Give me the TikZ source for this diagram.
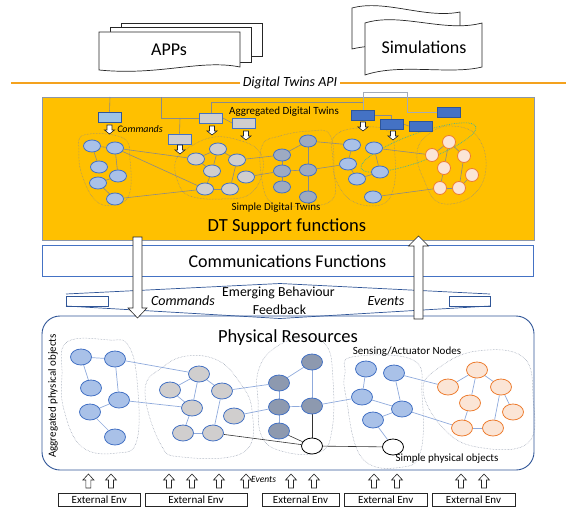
\documentclass[tikz,border=0pt]{standalone}
\usepackage{fontspec}
\setmainfont{Carlito}
\usetikzlibrary{shapes.geometric}
\pgfdeclarelayer{back}
\pgfdeclarelayer{edges}
\pgfsetlayers{back,edges,main}
\definecolor{gold}{HTML}{FFC000}
\definecolor{apiorange}{HTML}{F4A21E}
\definecolor{dkblue}{HTML}{2F5597}
\definecolor{mdblue}{HTML}{4472C4}
\definecolor{ltblue}{HTML}{A9C1E8}
\definecolor{boxblue}{HTML}{9DC3E6}
\definecolor{gryfill}{HTML}{D0CECE}
\definecolor{slate}{HTML}{9DAAC2}
\definecolor{peach}{HTML}{FBE5D6}
\definecolor{orng}{HTML}{ED7D31}
\definecolor{lnblue}{HTML}{8FAADC}
\definecolor{lngray}{HTML}{8A8A8A}
\definecolor{tealdot}{HTML}{3CB4A0}
\definecolor{blobgray}{HTML}{8C96A8}
\newcommand\blkdown[6]{\draw[blockarr] (#1-#6,#2) -- (#1+#6,#2) -- (#1+#6,#3-#4) -- (#1+#5,#3-#4) -- (#1,#3) -- (#1-#5,#3-#4) -- (#1-#6,#3-#4) -- cycle;}
\newcommand\blkup[6]{\draw[blockarr] (#1-#6,#2) -- (#1+#6,#2) -- (#1+#6,#3+#4) -- (#1+#5,#3+#4) -- (#1,#3) -- (#1-#5,#3+#4) -- (#1-#6,#3+#4) -- cycle;}
\begin{document}
\begin{tikzpicture}[x=1pt,y=-1pt,
  docline/.style={draw=black!85, line width=0.7pt, fill=white},
  blockarr/.style={draw=black!85, line width=0.6pt, fill=white, line join=miter},
  dn/.style={ellipse, draw=mdblue, line width=0.8pt, inner sep=0, minimum width=17, minimum height=12},
  dc/.style={circle, draw=orng, line width=0.8pt, fill=peach, inner sep=0, minimum size=13},
  pn/.style={ellipse, draw=mdblue, line width=0.8pt, inner sep=0, minimum width=21, minimum height=16},
  pc/.style={ellipse, draw=orng, line width=0.8pt, fill=peach, inner sep=0, minimum width=21, minimum height=16},
  wn/.style={ellipse, draw=black, line width=0.8pt, fill=white, inner sep=0, minimum width=21, minimum height=16},
  dbox/.style={rectangle, draw=dkblue, line width=0.7pt, inner sep=0, minimum width=23, minimum height=10},
  tree/.style={draw=lngray, line width=0.6pt},
  dedge/.style={draw=lngray, line width=0.6pt},
  pedge/.style={draw=lnblue, line width=0.7pt},
  kedge/.style={draw=black!80, line width=0.6pt},
  blob/.style={draw=lngray, line width=0.5pt, densely dotted},
  pblob/.style={draw=blobgray, line width=0.5pt, densely dotted},
  lbl/.style={inner sep=0, font=\fontsize{11}{13}\selectfont},
  big/.style={inner sep=0, font=\fontsize{18.5}{22}\selectfont},
  band/.style={inner sep=0, font=\fontsize{13.8}{16}\selectfont},
  env/.style={rectangle, draw=black!85, line width=0.6pt, fill=white, inner sep=0, minimum height=13, font=\fontsize{11}{13}\selectfont}
]
\useasboundingbox (0,0) rectangle (575,508);

% ---------- APPs (multi-document) ----------
\draw[docline] (121,23) -- (262,23) -- (262,56) -- (121,56) -- cycle;
\draw[docline] (110,27) -- (251,27) -- (251,62) -- (110,62) -- cycle;
\draw[docline] (99,32) -- (240,32) -- (240,67) .. controls (200,59) and (160,76) .. (99,70) -- cycle;
\node[big, font=\fontsize{18}{22}\selectfont] (apps) at (169,50) {APPs};

% ---------- Simulations (punched tape) ----------
\draw[docline] (352,8) .. controls (385,-1) and (425,19) .. (460,12) -- (460,46) .. controls (430,53) and (390,40) .. (352,49) -- cycle;
\draw[docline] (365,23) .. controls (400,12) and (445,33) .. (482,23) -- (482,67) .. controls (450,75) and (400,63) .. (365,75) -- cycle;
\node[big, font=\fontsize{18}{22}\selectfont] (sims) at (424,47) {Simulations};

% ---------- API line ----------
\node[inner sep=3, font=\fontsize{14}{16}\itshape\selectfont] (api) at (290,83) {Digital Twins API};
\coordinate (apiL) at (11,83);
\coordinate (apiR) at (566,83);
\draw[apiorange, line width=1.8pt] (apiL) -- (api.west);
\draw[apiorange, line width=1.8pt] (api.east) -- (apiR);

% ---------- DT support area ----------
\begin{pgfonlayer}{back}
\draw[fill=gold, draw=blobgray, line width=0.8pt] (42,97) rectangle (534,240);
\end{pgfonlayer}

% boxes
\node[dbox, fill=boxblue] (boxA) at (109.5,117) {};
\node[dbox, fill=gryfill, draw=mdblue] (boxB) at (179.5,139) {};
\node[dbox, fill=gryfill, draw=mdblue] (boxC) at (211,118) {};
\node[dbox, fill=gryfill, draw=mdblue] (boxD) at (244,123) {};
\node[dbox, fill=mdblue] (boxE) at (363,115) {};
\node[dbox, fill=mdblue] (boxF) at (391.5,124) {};
\node[dbox, fill=mdblue] (boxG) at (420.5,126) {};
\node[dbox, fill=mdblue] (boxH) at (449,112) {};

% tree lines
\coordinate (ta) at (110,97);
\coordinate (tb) at (161,97);
\coordinate (tj) at (180,118);
\coordinate (fr1) at (363,92);
\coordinate (fr2) at (407,92);
\begin{pgfonlayer}{edges}
\draw[tree] (ta) -- (boxA.north);
\draw[tree] (tb) |- (boxC.west);
\draw[tree] (tj) -- (boxB.north);
\draw[tree] (boxC.north) -- ++(0,-10) -| (boxE.north);
\draw[tree] (boxC.east) -- (boxD.west);
\draw[tree] (boxE.east) -| (boxF.north);
\draw[tree] (boxF.east) -- (boxG.west);
\draw[draw=blobgray!80, line width=0.6pt] (boxE.north) -- (fr1) -- (fr2) |- (boxH.west);
\end{pgfonlayer}

% small command arrows
\blkdown{109.5}{125}{134}{4}{5}{2.5}
\blkdown{180}{145}{154}{4}{5}{2.5}
\blkdown{212}{126}{135}{4}{5}{2.5}
\blkdown{246}{131}{140}{4}{5}{2.5}
\blkdown{363}{122}{131}{4}{5}{2.5}
\blkdown{393}{131}{140}{4}{5}{2.5}

% labels
\node[lbl, font=\fontsize{10}{12}\itshape\selectfont] (cmd1) at (140,129) {Commands};
\node[lbl] (agg) at (284,112) {Aggregated Digital Twins};
\node[lbl] (sdt) at (276,208) {Simple Digital Twins};
\node[big] (dts) at (287,227) {DT Support functions};

% dotted groups (digital)
\begin{pgfonlayer}{edges}
\draw[blob] plot[smooth cycle, tension=0.7] coordinates {(84,135) (123,138) (130,160) (129,195) (112,205) (95,200) (82,175) (79,152)};
\draw[blob] plot[smooth cycle, tension=0.7] coordinates {(176,160) (193,145) (215,137) (238,140) (258,150) (263,170) (250,194) (222,199) (190,196) (178,182)};
\draw[blob] plot[smooth cycle, tension=0.7] coordinates {(262,146) (280,136) (310,131) (330,135) (334,170) (332,200) (300,206) (272,203) (262,180)};
\draw[blob] plot[smooth cycle, tension=0.7] coordinates {(334,137) (357,128) (388,131) (395,157) (393,190) (380,205) (352,201) (336,180) (333,160)};
\draw[blob] plot[smooth cycle, tension=0.7] coordinates {(417,152) (430,133) (452,126) (477,136) (486,168) (472,196) (440,203) (424,180)};
\draw[tealdot, line width=0.7pt, densely dotted, rotate around={20:(418.5,147.5)}] (418.5,147.5) ellipse [x radius=61, y radius=14];
\end{pgfonlayer}

% digital nodes
\node[dn, fill=ltblue] (n1) at (92,146) {};
\node[dn, fill=ltblue] (n2) at (115,148) {};
\node[dn, fill=ltblue] (n3) at (99,167) {};
\node[dn, fill=ltblue] (n4) at (118,176) {};
\node[dn, fill=ltblue] (n5) at (98,183) {};
\node[dn, fill=ltblue] (n6) at (115,199) {};
\node[dn, fill=gryfill] (g1) at (196,159) {};
\node[dn, fill=gryfill] (g2) at (218,149) {};
\node[dn, fill=gryfill] (g3) at (212,171) {};
\node[dn, fill=gryfill] (g4) at (237,160) {};
\node[dn, fill=gryfill] (g5) at (246,177) {};
\node[dn, fill=gryfill] (g6) at (205,189) {};
\node[dn, fill=gryfill] (g7) at (230,189) {};
\node[dn, fill=slate] (d1) at (282,155) {};
\node[dn, fill=slate] (d2) at (282,171) {};
\node[dn, fill=slate] (d3) at (282,187) {};
\node[dn, fill=slate] (d4) at (308,141) {};
\node[dn, fill=slate] (d5) at (308,170) {};
\node[dn, fill=slate] (d6) at (308,197) {};
\node[dn, fill=ltblue] (e1) at (352,145) {};
\node[dn, fill=ltblue] (e2) at (374,148) {};
\node[dn, fill=ltblue] (e3) at (348,164) {};
\node[dn, fill=ltblue] (e4) at (380,172) {};
\node[dn, fill=ltblue] (e5) at (357,179) {};
\node[dn, fill=ltblue] (e6) at (373,197) {};
\node[dc] (o1) at (449,142) {};
\node[dc] (o2) at (432,155) {};
\node[dc] (o3) at (464,156) {};
\node[dc] (o4) at (444,168) {};
\node[dc] (o5) at (472,175) {};
\node[dc] (o6) at (440,188) {};
\node[dc] (o7) at (459,188) {};

% digital edges
\begin{pgfonlayer}{edges}
\foreach \a/\b in {n1/n2,n1/n3,n2/n4,n4/n5,n5/n6,n2/g1,n2/g6,n6/g6,
  g2/g1,g2/g3,g2/g4,g1/g3,g3/g6,g6/g7,g4/g7,g4/d1,g5/d2,
  d1/d2,d2/d3,d4/d5,d5/d6,d1/d4,d2/d5,d4/e1,d5/e3,
  e1/e3,e2/e4,e4/e5,e3/e5,e2/o2,e6/o6,
  o1/o2,o1/o4,o1/o3,o3/o7,o4/o6,o6/o7,o5/o7}
  \draw[dedge] (\a) -- (\b);
\end{pgfonlayer}

% ---------- Communications ----------
\node[rectangle, draw=mdblue, line width=0.7pt, fill=white, minimum width=491, minimum height=31.5, inner sep=0, font=\fontsize{18}{22}\selectfont] (comm) at (287.5,261) {Communications Functions};

% lens band
\coordinate (lzL1) at (66,294); \coordinate (lzT) at (280,283.5); \coordinate (lzR1) at (490,294);
\coordinate (lzL2) at (66,306); \coordinate (lzB) at (280,318.5); \coordinate (lzR2) at (490,306);
\draw[dkblue, line width=0.7pt] (lzL1) -- (lzT) -- (lzR1);
\draw[dkblue, line width=0.7pt] (lzL2) -- (lzB) -- (lzR2);
\draw[dkblue, line width=0.7pt] (66,296) rectangle (108,306);
\draw[dkblue, line width=0.7pt] (449,296) rectangle (490,306);
\node[band, font=\fontsize{14}{16}\itshape\selectfont] (cmd2) at (183,301) {Commands};
\node[band] (emb) at (278.5,293) {Emerging Behaviour};
\node[band] (fb) at (279.5,310) {Feedback};
\node[band, font=\fontsize{14}{16}\itshape\selectfont] (ev1) at (386,301) {Events};

% ---------- Physical resources ----------
\draw[dkblue, line width=0.9pt, rounded corners=18] (42,316) rectangle (534,470);

% big arrows
\blkdown{137.5}{237}{318}{10}{9.5}{4.5}
\blkup{418.5}{319}{236}{10}{10}{4.5}

\node[big] (pr) at (288,338) {Physical Resources};
\node[lbl, rotate=90] (apo) at (53,396) {Aggregated physical objects};
\node[lbl] (san) at (407,352) {Sensing/Actuator Nodes};
\node[lbl] (spo) at (447,459) {Simple physical objects};

% dotted groups (physical)
\begin{pgfonlayer}{edges}
\draw[pblob] plot[smooth cycle, tension=0.7] coordinates {(67,342) (110,340) (128,345) (137,380) (137,440) (117,453) (82,447) (64,410) (62,375)};
\draw[pblob] plot[smooth cycle, tension=0.7] coordinates {(145,390) (163,367) (187,356) (217,360) (238,380) (252,410) (244,452) (182,457) (160,443)};
\draw[pblob] plot[smooth cycle, tension=0.7] coordinates {(258,372) (272,350) (300,338) (326,345) (333,380) (332,430) (320,452) (285,452) (262,437) (258,400)};
\draw[pblob] plot[smooth cycle, tension=0.7] coordinates {(352,357) (413,360) (422,395) (421,450) (403,467) (362,458) (346,397) (345,373)};
\draw[pblob] plot[smooth cycle, tension=0.7] coordinates {(423,390) (440,367) (477,351) (523,357) (533,397) (528,443) (477,447) (443,428)};
\end{pgfonlayer}

\node[pn, fill=ltblue] (p1) at (81,357) {};
\node[pn, fill=ltblue] (p2) at (115,359) {};
\node[pn, fill=ltblue] (p3) at (91,388) {};
\node[pn, fill=ltblue] (p4) at (119,400) {};
\node[pn, fill=ltblue] (p5) at (90,412) {};
\node[pn, fill=ltblue] (p6) at (115,437) {};
\node[pn, fill=gryfill] (q1) at (199,374) {};
\node[pn, fill=gryfill] (q2) at (170,390) {};
\node[pn, fill=gryfill] (q3) at (222,391) {};
\node[pn, fill=gryfill] (q4) at (192,408) {};
\node[pn, fill=gryfill] (q5) at (234,416) {};
\node[pn, fill=gryfill] (q6) at (183,433) {};
\node[pn, fill=gryfill] (q7) at (213,433) {};
\node[pn, fill=slate!90!black] (r1) at (312,362) {};
\node[pn, fill=slate!90!black] (r2) at (279,383) {};
\node[pn, fill=slate!90!black] (r3) at (279,407) {};
\node[pn, fill=slate!90!black] (r4) at (312,406) {};
\node[pn, fill=slate!90!black] (r5) at (279,431) {};
\node[wn] (w1) at (312,446) {};
\node[pn, fill=ltblue] (s1) at (366,369) {};
\node[pn, fill=ltblue] (s2) at (394,373) {};
\node[pn, fill=ltblue] (s3) at (362,397) {};
\node[pn, fill=ltblue] (s4) at (402,409) {};
\node[pn, fill=ltblue] (s5) at (373,420) {};
\node[wn] (w2) at (393,447) {};
\node[pc] (t1) at (477,370) {};
\node[pc] (t2) at (448,387) {};
\node[pc] (t3) at (501,387) {};
\node[pc] (t4) at (470,403) {};
\node[pc] (t5) at (513,412) {};
\node[pc] (t6) at (462,428) {};
\node[pc] (t7) at (493,428) {};

\begin{pgfonlayer}{edges}
\foreach \a/\b in {p1/p2,p1/p3,p2/p4,p4/p5,p5/p6,p2/q1,p4/q4,
  q2/q1,q1/q4,q1/q3,q2/q4,q4/q6,q6/q7,q3/q7,q3/r2,q5/r3,
  r1/r2,r2/r3,r3/r5,r1/r4,r3/r4,r4/s3,
  s1/s3,s2/s4,s3/s4,s4/s5,s5/w2,s2/t2,s4/t6,
  t1/t2,t1/t4,t1/t3,t3/t5,t3/t7,t6/t7,t4/t6}
  \draw[pedge] (\a) -- (\b);
\foreach \a/\b in {q7/w1,r5/w1,r4/w1,w1/w2}
  \draw[kedge] (\a) -- (\b);
\end{pgfonlayer}

% ---------- External env ----------
\node[env, minimum width=82.5] (x1) at (99.25,499.5) {External Env};
\node[env, minimum width=102] (x2) at (196,499.5) {External Env};
\node[env, minimum width=77] (x3) at (300.5,499.5) {External Env};
\node[env, minimum width=82.5] (x4) at (385.75,499.5) {External Env};
\node[env, minimum width=83] (x5) at (473.5,499.5) {External Env};
\foreach \xx in {88.4,111,169,192,219,246,291,314,374,397,461,484}
  {\blkup{\xx}{488}{474}{6}{5.5}{2.5}}
\node[inner sep=0, font=\fontsize{9.5}{11}\itshape\selectfont] (ev2) at (263.6,479) {Events};
\end{tikzpicture}
\end{document}
